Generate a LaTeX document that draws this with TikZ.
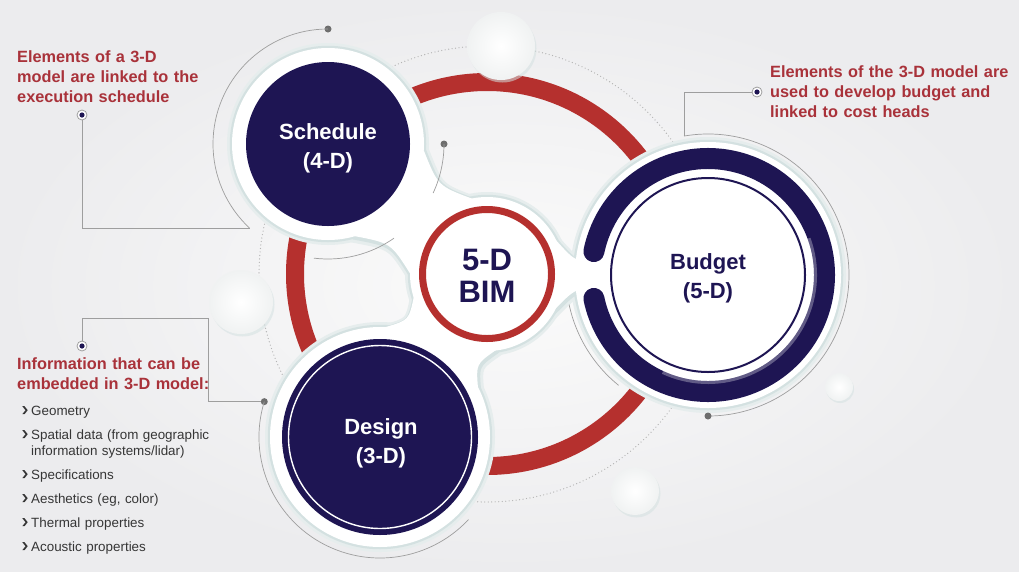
\documentclass[tikz,border=0pt]{standalone}
\usepackage{fontspec}
\setmainfont{Liberation Sans}
\usetikzlibrary{calc}
\definecolor{navy}{HTML}{1E1553}
\definecolor{bimred}{HTML}{B5302E}
\definecolor{txtred}{HTML}{A9323A}
\definecolor{lgray}{HTML}{9E9E9E}
\definecolor{dgray}{HTML}{6E6E6E}
\definecolor{bgout}{HTML}{ECECEE}
\definecolor{bgin}{HTML}{FBFBFB}
\definecolor{shA}{HTML}{D4E1E1}
\definecolor{shB}{HTML}{E6EDED}
\definecolor{listc}{HTML}{363636}
\definecolor{bubo}{HTML}{F0F2F2}
\definecolor{dotc}{HTML}{B4B4B4}
\newcommand{\txtR}{\fontsize{16.3}{20.3}\selectfont\bfseries}
\newcommand{\listF}{\fontsize{13.4}{16}\selectfont}
\newcommand{\circF}{\fontsize{22}{29}\selectfont\bfseries}
\newcommand{\bimF}{\fontsize{31}{32}\selectfont\bfseries}
\begin{document}
\begin{tikzpicture}[x=1pt,y=-1pt,
  conn/.style={draw=lgray, line width=0.7pt},
  enddot/.style={circle, fill=dgray, inner sep=0, minimum size=7pt},
  target/.style={circle, draw=lgray, fill=white, line width=0.8pt, inner sep=0, minimum size=10pt,
    path picture={\fill[navy] (path picture bounding box.center) circle (2.6pt);}},
  redtxt/.style={anchor=base west, text width=260pt, align=left, inner sep=0, font=\txtR, text=txtred},
  circtxt/.style={font=\circF, align=center, inner sep=0},
  haloB/.style={draw=shB, line width=10pt, shift={(1,2)}},
  haloA/.style={draw=shA, line width=4.5pt, shift={(0.8,1.5)}},
  haloW/.style={fill=white},
  bubsh/.style={fill=shA, opacity=0.55},
  bubble/.style={inner color=white, outer color=bubo},
  chev/.style={fill=listc}
]
\useasboundingbox (0,0) rectangle (1019,571);
\shade[inner color=bgin, outer color=bgout] (0,0) rectangle (1019,571);

% centres
\coordinate (C) at (487,274);
\coordinate (S) at (328,144);
\coordinate (D) at (380,437);
\coordinate (U) at (708,275);

% dotted orbit and red ring
\draw[dotc, line width=1.3pt, line cap=round, dash pattern=on 0pt off 3.5pt] (C) circle (228);
\draw[bimred, line width=18pt] (C) circle (192);

% white halos with soft teal shadow
\foreach \st in {haloB,haloA,haloW}{
  \path[\st] (S) circle (96) (D) circle (110) (C) circle (77) (U) circle (133);
  \path[\st] (354,236) .. controls (391,243) .. (411,275) -- (C) -- (473,199) .. controls (438,186) .. (424,151) -- (S) -- cycle;
  \path[\st] (478,388) .. controls (476,364) .. (496,350) -- (C) -- (414,296) .. controls (409,320) .. (386,327) -- (D) -- cycle;
  \path[\st] (554,238) .. controls (572,258) .. (584,262) -- (620,262) -- (620,288) -- (584,288) .. controls (572,292) .. (554,310) -- (C) -- cycle;
}

% bubbles
\coordinate (b1) at (501,46);
\coordinate (b2) at (241,302);
\coordinate (b3) at (635,491);
\coordinate (b4) at (839,387);
\fill[bubsh] ($(b1)+(1.5,2.5)$) circle (34);
\fill[bubsh] ($(b2)+(1.5,2.5)$) circle (32);
\fill[bubsh] ($(b3)+(1.5,2.5)$) circle (24);
\fill[bubsh] ($(b4)+(1,2)$) circle (14);
\shade[bubble] (b1) circle (34);
\shade[bubble] (b2) circle (32);
\shade[bubble] (b3) circle (24);
\shade[bubble] (b4) circle (14);

% Schedule
\node[circle, fill=navy, minimum size=164pt, inner sep=0] (sched) at (S) {};
\node[circtxt, text=white] (schedT) at (328,148) {Schedule\\(4-D)};

% Design
\node[circle, fill=navy, minimum size=196pt, inner sep=0] (design) at (D) {};
\draw[white, line width=1.4pt] (D) circle (91.5);
\node[circtxt, text=white] (designT) at (381,443) {Design\\(3-D)};

% Budget
\draw[navy, line width=21pt, line cap=round] ($(U)+(191.6:116.5)$) arc[start angle=191.6, end angle=528.4, radius=116.5];
\draw[white, line width=3pt, opacity=0.3] ($(U)+(-20:107.5)$) arc[start angle=-20, end angle=115, radius=107.5];
\node[circle, draw=navy, line width=2pt, minimum size=194pt, inner sep=0] (budget) at (U) {};
\node[circtxt, text=navy] (budgetT) at (708,278) {Budget\\(5-D)};

% 5-D BIM
\node[circle, draw=bimred, fill=white, line width=7pt, minimum size=129pt, inner sep=0] (bim) at (C) {};
\node[font=\bimF, text=navy, align=center, inner sep=0] (bimT) at (487,276) {5-D\\BIM};

% Schedule connectors
\node[target] (m1) at (82,115) {};
\coordinate (a1e) at ($(S)+(133:115)$);
\node[enddot] (d1) at ($(S)+(270:115)$) {};
\draw[conn] (m1) |- (a1e);
\draw[conn] (d1.center) arc[start angle=270, end angle=133, radius=115];
\node[enddot] (d1b) at ($(S)+(0:116)$) {};
\draw[conn] (d1b.center) arc[start angle=0, end angle=25, radius=116];
\draw[conn] ($(S)+(55:115)$) arc[start angle=55, end angle=97, radius=115];

% Budget connectors
\node[target] (m2) at (757,92) {};
\coordinate (a2s) at ($(U)+(260.2:141)$);
\draw[conn] (m2) -| (a2s);
\draw[conn] (a2s) arc[start angle=260.2, end angle=450, radius=141];
\node[enddot] (d2) at ($(U)+(90:141)$) {};
\draw[conn] ($(U)+(129:142)$) arc[start angle=129, end angle=168, radius=142];

% Design connectors
\node[target] (m3) at (82,346) {};
\coordinate (k3) at (208,318);
\node[enddot] (d3) at ($(D)+(197:121)$) {};
\draw[conn] (m3) |- (k3) |- (d3);
\draw[conn] (d3.center) arc[start angle=197, end angle=43, radius=121];

% texts
\node[redtxt] (t1) at (17,62) {Elements of a 3-D\\model are linked to the\\execution schedule};
\node[redtxt, text width=248pt] (t2) at (770,77) {Elements of the 3-D model are\\used to develop budget and\\linked to cost heads};
\node[redtxt] (t3) at (17,369) {Information that can be\\embedded in 3-D model:};
\node[anchor=base west, text width=230pt, align=left, inner sep=0, font=\listF, text=listc] (list) at (31,415)
  {Geometry\\[8pt]Spatial data (from geographic\\information systems/lidar)\\[8pt]Specifications\\[8pt]Aesthetics (eg, color)\\[8pt]Thermal properties\\[8pt]Acoustic properties};
\foreach \b in {415,439,479,503,527,551}{
  \fill[chev] (22.3,{\b-8.8}) -- (24.5,{\b-8.8}) -- (27.7,{\b-4.8}) -- (24.5,{\b-0.8}) -- (22.3,{\b-0.8}) -- (25.5,{\b-4.8}) -- cycle;
}
\end{tikzpicture}
\end{document}
